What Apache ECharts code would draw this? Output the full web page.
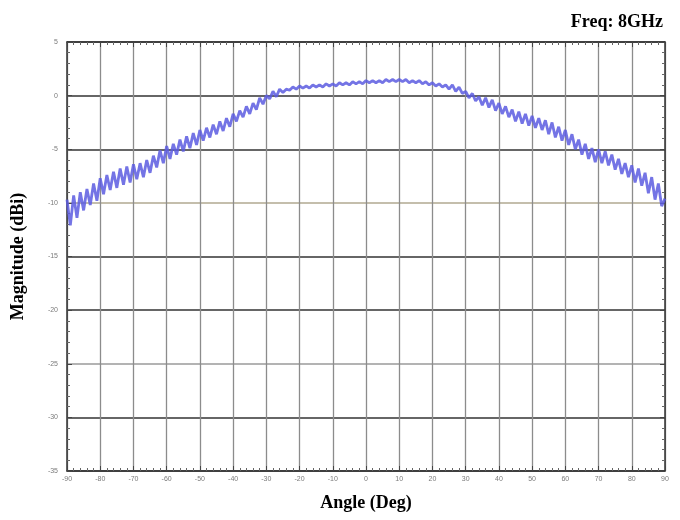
<!DOCTYPE html>
<html>
<head>
<meta charset="utf-8">
<script src="https://cdn.jsdelivr.net/npm/echarts@6/dist/echarts.min.js"></script>
<style>
html,body{margin:0;padding:0;background:#fff;}
#chart{width:680px;height:520px;}
</style>
</head>
<body>
<div id="chart"></div>
<script>
// Angle axis (degrees), one sample per degree from -90 to 90
const angleStart = -90;
const angleStep = 1;
// Magnitude (dBi), including its ripple
const magnitude = [
  -9.7, -12.1, -9.3, -11.4, -9.0, -10.7, -8.7, -10.2, -8.2, -9.8,
  -7.7, -9.2, -7.4, -8.8, -7.1, -8.6, -6.8, -8.3, -6.6, -8.1,
  -6.4, -7.8, -6.3, -7.6, -6.0, -7.2, -5.6, -6.7, -5.1, -6.3,
  -4.7, -5.9, -4.5, -5.5, -4.1, -5.2, -3.8, -4.9, -3.5, -4.6,
  -3.2, -4.2, -3.0, -3.9, -2.7, -3.6, -2.4, -3.3, -2.1, -2.9,
  -1.7, -2.4, -1.4, -2.0, -1.0, -1.7, -0.7, -1.3, -0.2, -0.8,
  0.0, -0.3, 0.4, -0.1, 0.6, 0.3, 0.6, 0.5, 0.8, 0.6,
  0.9, 0.7, 0.9, 0.7, 1.0, 0.8, 1.0, 0.8, 1.1, 0.9,
  1.1, 0.9, 1.2, 1.0, 1.2, 1.0, 1.3, 1.1, 1.3, 1.1,
  1.4, 1.2, 1.4, 1.2, 1.4, 1.2, 1.5, 1.3, 1.5, 1.3,
  1.5, 1.3, 1.5, 1.2, 1.4, 1.2, 1.4, 1.1, 1.3, 1.0,
  1.2, 0.9, 1.1, 0.8, 1.0, 0.6, 1.0, 0.4, 0.8, 0.2,
  0.4, -0.2, 0.2, -0.5, -0.1, -0.9, -0.2, -1.1, -0.4, -1.4,
  -0.7, -1.7, -1.0, -2.0, -1.3, -2.4, -1.5, -2.6, -1.7, -2.8,
  -1.9, -3.0, -2.1, -3.2, -2.3, -3.6, -2.5, -3.9, -2.9, -4.2,
  -3.2, -4.6, -3.6, -5.0, -4.1, -5.5, -4.5, -5.9, -4.9, -6.2,
  -5.0, -6.3, -5.2, -6.5, -5.5, -6.9, -5.9, -7.3, -6.3, -7.6,
  -6.5, -8.1, -6.8, -8.4, -7.2, -9.1, -7.6, -9.7, -8.2, -10.3,
  -9.6
];
const xTicks = { min: -90, max: 90, interval: 10 };
const yTicks = { min: -35, max: 5, interval: 5 };
const titleText = 'Freq: 8GHz';
const xName = 'Angle (Deg)';
const yName = 'Magnitude (dBi)';

const points = magnitude.map((v, i) => [angleStart + i * angleStep, v]);

const serif = '"Liberation Serif", "DejaVu Serif", serif';
const tickLabel = { fontSize: 7, color: '#7a7a7a', fontFamily: 'Arial, "Liberation Sans", sans-serif' };

function frameAxis(extra) {
  return Object.assign({
    type: 'value',
    axisLine: { show: true, onZero: false, lineStyle: { color: '#333', width: 1.5 } },
    axisTick: { show: true, inside: true, length: 5, lineStyle: { color: '#444' } },
    minorTick: { show: true, splitNumber: 5, length: 3, lineStyle: { color: '#666' } }
  }, extra);
}

const chart = echarts.init(document.getElementById('chart'), null, { renderer: 'canvas' });
chart.setOption({
  backgroundColor: '#ffffff',
  animation: false,
  title: {
    text: titleText,
    right: 12, top: 8,
    textStyle: { fontFamily: serif, fontWeight: 'bold', fontSize: 18, color: '#000' }
  },
  grid: { left: 67, right: 15, top: 42, bottom: 49 },
  xAxis: [frameAxis({
    position: 'bottom',
    min: xTicks.min, max: xTicks.max, interval: xTicks.interval,
    name: xName, nameLocation: 'middle', nameGap: 23,
    nameTextStyle: { fontFamily: serif, fontWeight: 'bold', fontSize: 18, color: '#000' },
    axisLabel: Object.assign({ margin: 5 }, tickLabel),
    splitLine: { show: true, lineStyle: { color: '#8c8c8c', width: 1.3 } }
  }), frameAxis({
    position: 'top',
    min: xTicks.min, max: xTicks.max, interval: xTicks.interval,
    axisLabel: { show: false },
    splitLine: { show: false }
  })],
  yAxis: [frameAxis({
    position: 'left',
    min: yTicks.min, max: yTicks.max, interval: yTicks.interval,
    name: yName, nameLocation: 'middle', nameGap: 40,
    nameTextStyle: { fontFamily: serif, fontWeight: 'bold', fontSize: 18, color: '#000' },
    axisLabel: Object.assign({ margin: 9 }, tickLabel),
    splitLine: { show: true, lineStyle: {
      color: ['#333', '#333', '#9a9a9a', '#333', '#333', '#b0a890', '#333', '#333', '#333'],
      width: 1.6 } }
  }), frameAxis({
    position: 'right',
    min: yTicks.min, max: yTicks.max, interval: yTicks.interval,
    axisLabel: { show: false },
    splitLine: { show: false }
  })],
  series: [{
    type: 'line',
    xAxisIndex: 0, yAxisIndex: 0,
    data: points,
    showSymbol: false,
    smooth: false,
    lineStyle: { color: '#5c5ce0', width: 2.8, opacity: 0.85 }
  }]
});
</script>
</body>
</html>
